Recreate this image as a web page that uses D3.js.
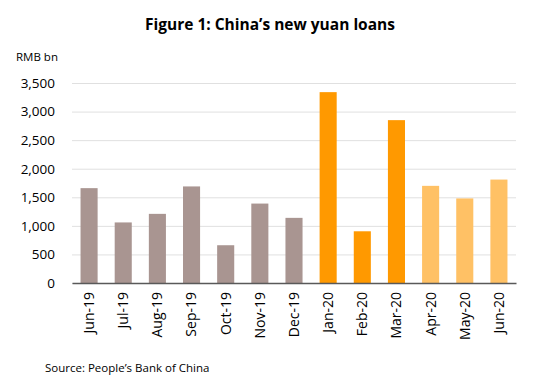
<!DOCTYPE html>
<html>
<head>
<meta charset="utf-8">
<script src="https://cdn.jsdelivr.net/npm/d3@7"></script>
<style>
  body { margin: 0; background: #fff; }
  svg text { font-family: "Open Sans", "Liberation Sans", sans-serif; fill: #000; }
</style>
</head>
<body>
<div id="chart"></div>
<script>
// data
const months = ['Jun-19', 'Jul-19', 'Aug-19', 'Sep-19', 'Oct-19', 'Nov-19', 'Dec-19',
                'Jan-20', 'Feb-20', 'Mar-20', 'Apr-20', 'May-20', 'Jun-20'];
const loans = [1660, 1060, 1210, 1690, 661, 1390, 1140, 3340, 905, 2850, 1700, 1480, 1810];
const groups = [0, 0, 0, 0, 0, 0, 0, 1, 1, 1, 2, 2, 2];
const yTicks = [0, 500, 1000, 1500, 2000, 2500, 3000, 3500];

const svgWidth = 541;
const svgHeight = 382;
const margin = {top: 83, right: 25, bottom: 99, left: 72};
const width = svgWidth - margin.left - margin.right;
const height = svgHeight - margin.top - margin.bottom;

const svg = d3.select('#chart').append('svg')
    .attr('width', svgWidth)
    .attr('height', svgHeight);

svg.append('text')
    .attr('x', 270).attr('y', 30)
    .attr('text-anchor', 'middle')
    .style('font-size', '15.5px')
    .style('font-weight', 'bold')
    .text('Figure 1: China\u2019s new yuan loans');

svg.append('text')
    .attr('x', 16).attr('y', 61)
    .style('font-size', '11.5px')
    .text('RMB bn');

svg.append('text')
    .attr('x', 45).attr('y', 372)
    .style('font-size', '11.5px')
    .text('Source: People\u2019s Bank of China');

const g = svg.append('g').attr('transform', `translate(${margin.left},${margin.top})`);

const x = d3.scaleBand().domain(months).range([0, width]).paddingInner(0.5).paddingOuter(0.25);
const y = d3.scaleLinear().domain([0, 3500]).range([height, 0]);
const color = d3.scaleOrdinal().domain([0, 1, 2]).range(['#a99591', '#ff9900', '#ffc165']);

// gridlines
g.append('g')
    .call(d3.axisLeft(y).tickValues(yTicks).tickSize(-width).tickFormat(''))
    .call(a => a.select('.domain').remove())
    .call(a => a.selectAll('line').attr('stroke', '#e0e0e0').attr('stroke-width', 1));

// y labels
g.append('g')
    .call(d3.axisLeft(y).tickValues(yTicks).tickSize(0).tickPadding(17).tickFormat(d3.format(',')))
    .call(a => a.select('.domain').remove())
    .call(a => a.selectAll('text').style('font-size', '13.5px').attr('fill', '#000'));

g.selectAll('rect.bar').data(loans)
    .enter().append('rect')
    .attr('class', 'bar')
    .attr('x', (d, i) => x(months[i]))
    .attr('y', d => y(d))
    .attr('width', x.bandwidth())
    .attr('height', d => height - y(d))
    .attr('fill', (d, i) => color(groups[i]));

// x axis
const xAxis = g.append('g')
    .attr('transform', `translate(0,${height})`)
    .call(d3.axisBottom(x).tickSize(0).tickPadding(0));
xAxis.select('.domain').attr('stroke', '#595959').attr('stroke-width', 1.3);
xAxis.selectAll('text')
    .style('font-size', '14px')
    .attr('fill', '#000')
    .attr('transform', 'rotate(-90)')
    .attr('text-anchor', 'end')
    .attr('x', -9)
    .attr('y', 0)
    .attr('dy', '0.35em');
</script>
</body>
</html>
